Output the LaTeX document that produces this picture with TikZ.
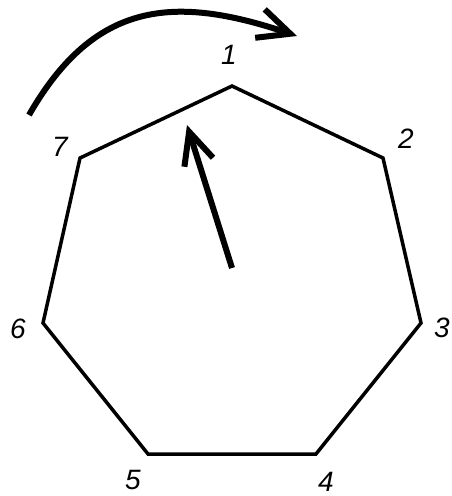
\documentclass[tikz,border=0pt]{standalone}
\usepackage{fontspec}
\setmainfont{Liberation Sans}
\usetikzlibrary{arrows.meta}
\begin{document}
\begin{tikzpicture}[x=1pt,y=-1pt,
  edge/.style={line width=3.5pt,line join=miter},
  bigarrow/.style={line width=6pt,-{Straight Barb[length=32pt,width=30pt,line width=6pt]}},
  lbl/.style={font=\fontsize{28}{32}\selectfont\itshape,inner sep=0pt}]
\useasboundingbox (0,0) rectangle (452,496);
\coordinate (v1) at (232,86);
\coordinate (v2) at (383,158);
\coordinate (v3) at (421,323);
\coordinate (v4) at (316,454);
\coordinate (v5) at (148,454);
\coordinate (v6) at (43,323);
\coordinate (v7) at (80,158);
\draw[edge] (v1) -- (v2) -- (v3) -- (v4) -- (v5) -- (v6) -- (v7) -- cycle;
\node[lbl] (l1) at (229,55) {1};
\node[lbl] (l2) at (406,139) {2};
\node[lbl] (l3) at (442,328) {3};
\node[lbl] (l4) at (326,482) {4};
\node[lbl] (l5) at (133,480) {5};
\node[lbl] (l6) at (18,329) {6};
\node[lbl] (l7) at (60,147) {7};
\coordinate (s1) at (232,268);
\coordinate (t1) at (187,125);
\draw[bigarrow] (s1) -- (t1);
\coordinate (s2) at (29,115);
\coordinate (t2) at (297,36);
\draw[bigarrow] (s2) .. controls (95,0) and (175,-5) .. (t2);
\end{tikzpicture}
\end{document}
